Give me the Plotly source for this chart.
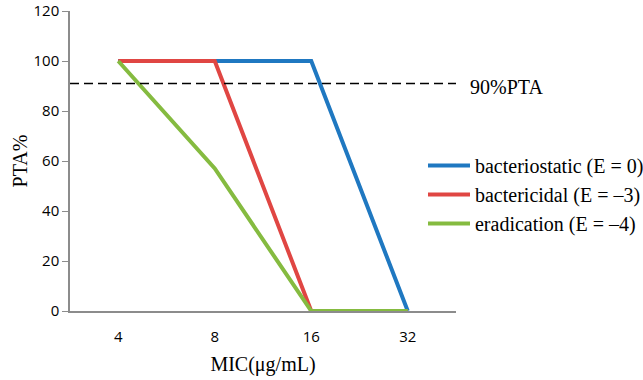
import plotly.graph_objects as go

mic_labels = ["4", "8", "16", "32"]
bacteriostatic = [100, 100, 100, 0]
bactericidal = [100, 100, 0, 0]
eradication = [100, 57, 0, 0]
pta_target = 91
y_ticks = [0, 20, 40, 60, 80, 100, 120]

series = [
    ("bacteriostatic (E = 0)", bacteriostatic, "#1f78c1"),
    ("bactericidal (E = \u20133)", bactericidal, "#e04643"),
    ("eradication (E = \u20134)", eradication, "#85bb40"),
]

fig = go.Figure()
for i, (name, vals, col) in enumerate(series):
    fig.add_trace(go.Scatter(
        x=mic_labels, y=vals, mode="lines", name=name,
        line=dict(color=col, width=4), legendgroup=f"g{i}",
    ))

fig.add_shape(type="line", xref="paper", yref="y", x0=0, x1=1.0,
              y0=pta_target, y1=pta_target,
              line=dict(color="black", width=1.5, dash="9px,5px"))
fig.add_annotation(x=1.03, xref="paper", y=pta_target - 1.5, yref="y",
                   text="90%PTA", showarrow=False, xanchor="left",
                   font=dict(family="Liberation Serif", size=20, color="black"))

serif = "Liberation Serif"
sans = "Open Sans"
fig.update_layout(
    width=643, height=380,
    margin=dict(l=70, r=187, t=11, b=69, autoexpand=False),
    paper_bgcolor="white", plot_bgcolor="white",
    showlegend=True,
    legend=dict(x=0.9145, xanchor="left", y=0.55, yanchor="top",
                font=dict(family=serif, size=20, color="black"),
                traceorder="grouped", tracegroupgap=0, itemwidth=42,
                bgcolor="rgba(0,0,0,0)"),
    xaxis=dict(type="category", range=[-0.5, 3.5], showline=True,
               linecolor="#8c8c8c", linewidth=1.5, showgrid=False,
               zeroline=False, ticks="outside", ticklen=11,
               tickcolor="rgba(0,0,0,0)",
               tickfont=dict(family=sans, size=15, color="black"),
               title=dict(text="MIC(\u03bcg/mL)", standoff=12,
                          font=dict(family=serif, size=20, color="black"))),
    yaxis=dict(range=[0, 120], tickvals=y_ticks, showline=True,
               linecolor="#8c8c8c", linewidth=1.5, showgrid=False,
               zeroline=False, ticks="outside", ticklen=6,
               tickcolor="#8c8c8c", ticklabeloverflow="allow",
               tickfont=dict(family=sans, size=15, color="black"),
               title=dict(text="PTA%", standoff=1,
                          font=dict(family=serif, size=20, color="black"))),
)

fig.write_html("out.html", config={"displayModeBar": False},
               post_script="document.body.style.margin='0';")
